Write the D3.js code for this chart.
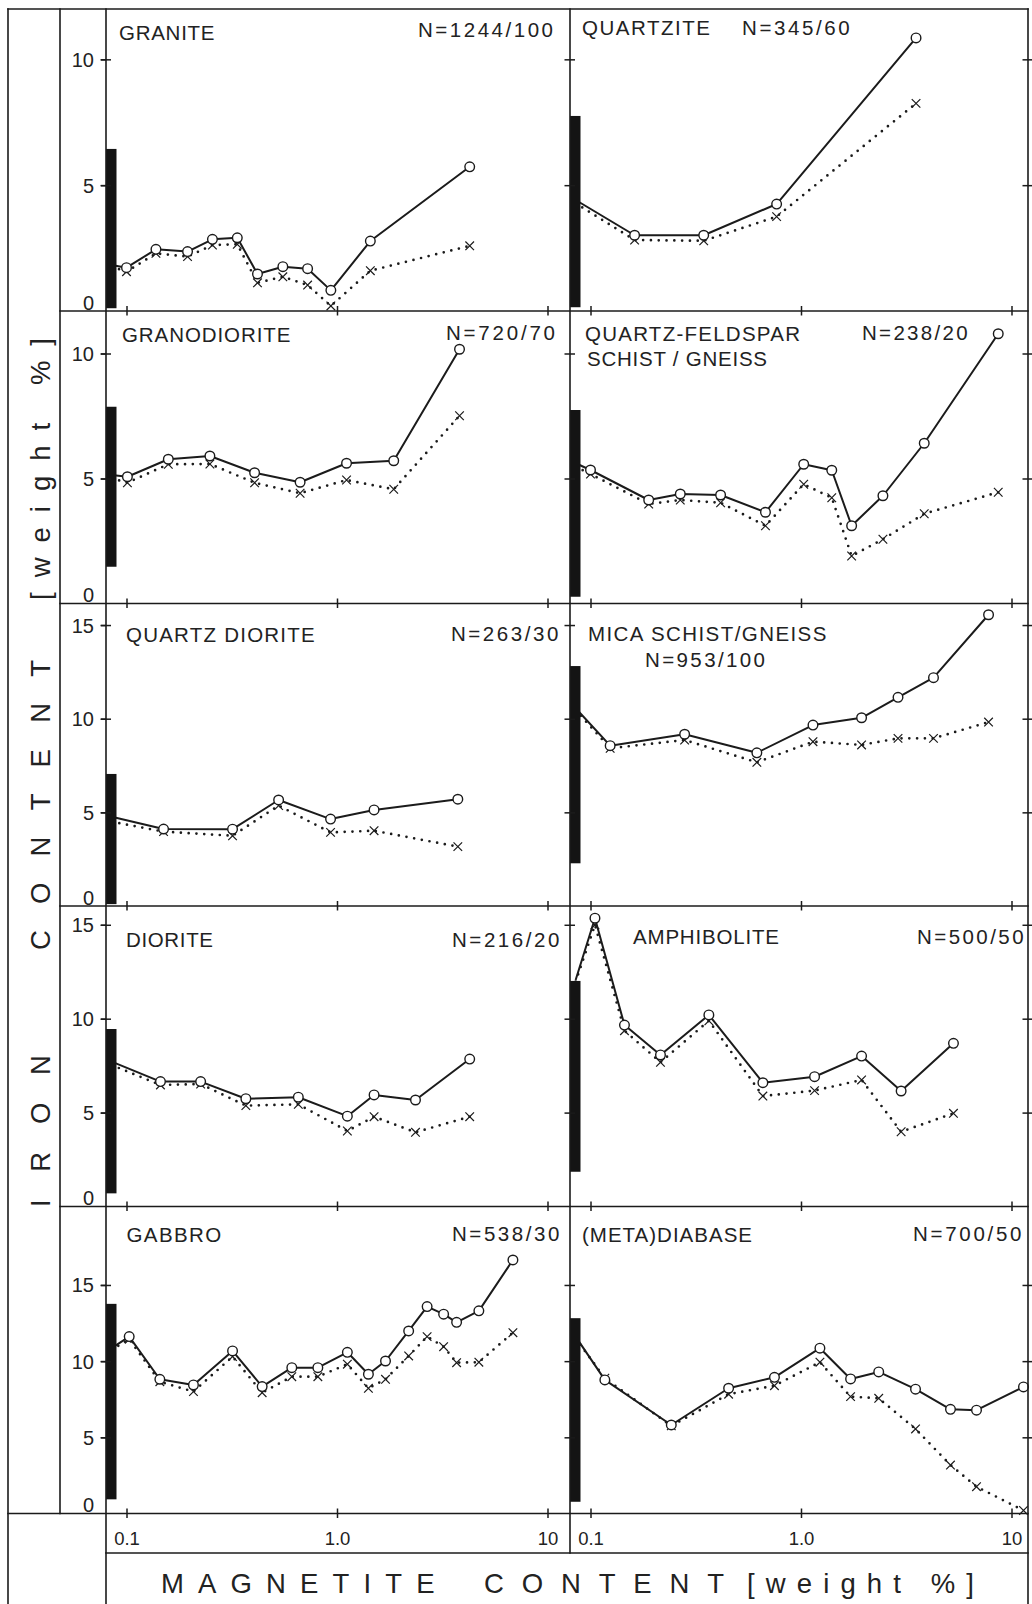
<!DOCTYPE html>
<html>
<head>
<meta charset="utf-8">
<script src="https://cdn.jsdelivr.net/npm/d3@7"></script>
<style>
  html, body { margin: 0; padding: 0; background: #ffffff; }
  svg { display: block; }
  text { font-family: "Liberation Sans", Arial, Helvetica, sans-serif; fill: #222; }
</style>
</head>
<body>
<script>
// Iron content of rocks against their magnetite content.
// Per rock type: magnetite (wt %), total Fe (open circles, solid line),
// Fe not bound in magnetite (crosses, dotted line) and the Fe range of
// magnetite-free samples (black bar). The first point of each series is
// the magnetite-free mean, plotted at the bar without a marker.

const graniteMag      = [0.085, 0.1, 0.138, 0.195, 0.256, 0.336, 0.419, 0.553, 0.725, 0.935, 1.44, 4.27];
const graniteFeTotal  = [1.83, 1.72, 2.45, 2.36, 2.85, 2.91, 1.47, 1.76, 1.68, 0.82, 2.78, 5.73];
const graniteFeRest   = [1.76, 1.56, 2.29, 2.16, 2.62, 2.65, 1.12, 1.36, 1.03, 0.20, 1.60, 2.59];
const graniteBar      = [0.11, 6.44];

const quartziteMag     = [0.085, 0.162, 0.345, 0.766, 3.52];
const quartziteFeTotal = [4.41, 3.01, 3.01, 4.25, 10.85];
const quartziteFeRest  = [4.28, 2.82, 2.79, 3.75, 8.25];
const quartziteBar     = [0.15, 7.75];

const granodioriteMag     = [0.085, 0.101, 0.158, 0.249, 0.406, 0.668, 1.11, 1.86, 3.82];
const granodioriteFeTotal = [5.14, 5.07, 5.77, 5.90, 5.23, 4.85, 5.61, 5.71, 10.17];
const granodioriteFeRest  = [5.01, 4.83, 5.57, 5.58, 4.83, 4.41, 4.94, 4.57, 7.51];
const granodioriteBar     = [1.47, 7.87];

const qfSchistMag     = [0.085, 0.1, 0.189, 0.267, 0.415, 0.678, 1.03, 1.40, 1.74, 2.45, 3.85, 8.65];
const qfSchistFeTotal = [5.61, 5.34, 4.14, 4.38, 4.34, 3.65, 5.57, 5.33, 3.11, 4.31, 6.41, 10.79];
const qfSchistFeRest  = [5.47, 5.18, 3.98, 4.14, 4.03, 3.11, 4.77, 4.23, 1.90, 2.57, 3.59, 4.45];
const qfSchistBar     = [0.27, 7.74];

const quartzDioriteMag     = [0.085, 0.150, 0.319, 0.528, 0.932, 1.50, 3.75];
const quartzDioriteFeTotal = [4.77, 4.11, 4.10, 5.66, 4.64, 5.13, 5.70];
const quartzDioriteFeRest  = [4.50, 3.97, 3.75, 5.36, 3.93, 4.02, 3.17];
const quartzDioriteBar     = [0.10, 7.05];

const micaSchistMag     = [0.085, 0.124, 0.280, 0.617, 1.14, 1.94, 2.89, 4.26, 7.78];
const micaSchistFeTotal = [10.56, 8.56, 9.17, 8.18, 9.66, 10.05, 11.14, 12.19, 15.55];
const micaSchistFeRest  = [10.46, 8.42, 8.86, 7.67, 8.77, 8.60, 8.95, 8.95, 9.82];
const micaSchistBar     = [2.28, 12.81];

const dioriteMag     = [0.085, 0.145, 0.225, 0.369, 0.655, 1.12, 1.50, 2.36, 4.27];
const dioriteFeTotal = [7.71, 6.65, 6.65, 5.74, 5.82, 4.81, 5.94, 5.67, 7.85];
const dioriteFeRest  = [7.53, 6.47, 6.52, 5.37, 5.44, 4.02, 4.78, 3.95, 4.78];
const dioriteBar     = [0.70, 9.45];

const amphiboliteMag     = [0.085, 0.105, 0.145, 0.215, 0.365, 0.659, 1.16, 1.94, 2.99, 5.30];
const amphiboliteFeTotal = [12.06, 15.35, 9.66, 8.07, 10.20, 6.59, 6.91, 8.01, 6.15, 8.69];
const amphiboliteFeRest  = [11.97, 14.99, 9.36, 7.68, 9.89, 5.88, 6.17, 6.74, 3.98, 4.96];
const amphiboliteBar     = [1.85, 12.01];

const gabbroMag     = [0.085, 0.103, 0.144, 0.208, 0.319, 0.441, 0.610, 0.811, 1.12, 1.41, 1.70, 2.19, 2.68, 3.21, 3.70, 4.72, 6.85];
const gabbroFeTotal = [10.85, 11.61, 8.81, 8.44, 10.67, 8.33, 9.57, 9.57, 10.58, 9.14, 10.01, 11.98, 13.58, 13.08, 12.55, 13.30, 16.64];
const gabbroFeRest  = [10.74, 11.44, 8.65, 8.00, 10.30, 7.93, 8.98, 8.98, 9.80, 8.22, 8.81, 10.34, 11.61, 10.95, 9.90, 9.93, 11.87];
const gabbroBar     = [0.93, 13.76];

const diabaseMag     = [0.085, 0.117, 0.242, 0.453, 0.748, 1.23, 1.72, 2.34, 3.50, 5.13, 6.82, 11.4];
const diabaseFeTotal = [11.61, 8.77, 5.81, 8.22, 8.94, 10.85, 8.83, 9.29, 8.16, 6.84, 6.78, 8.31];
const diabaseFeRest  = [11.50, 8.88, 5.75, 7.83, 8.39, 9.93, 7.67, 7.56, 5.55, 3.18, 1.76, 0.20];
const diabaseBar     = [0.77, 12.82];

const rockNames = [
  ["GRANITE"], ["QUARTZITE"],
  ["GRANODIORITE"], ["QUARTZ-FELDSPAR", "SCHIST / GNEISS"],
  ["QUARTZ DIORITE"], ["MICA SCHIST/GNEISS"],
  ["DIORITE"], ["AMPHIBOLITE"],
  ["GABBRO"], ["(META)DIABASE"]
];
const sampleCounts = [
  "N=1244/100", "N=345/60", "N=720/70", "N=238/20", "N=263/30",
  "N=953/100", "N=216/20", "N=500/50", "N=538/30", "N=700/50"
];

const rowTickValues = [[0, 5, 10], [0, 5, 10], [0, 5, 10, 15], [0, 5, 10, 15], [0, 5, 10, 15]];
const rowMaxFe      = [12, 11.7, 16.15, 16, 20.15];
const xTickValues   = [0.1, 1, 10];
const xTickLabels   = ["0.1", "1.0", "10"];
const yTitleWords   = ["IRON", "CONTENT", "[weight %]"];
const xTitleWords   = ["MAGNETITE", "CONTENT", "[weight %]"];

// ---------- layout ----------
const W = 1032, H = 1604;
const frameL = 8, labelColR = 60, frameT = 9, frameR = 1028;
const colX = [[106, 570], [570, 1028]];
const rowY = [[9, 311], [311, 603.5], [603.5, 906], [906, 1206.5], [1206.5, 1513.5]];
const tickRowBottom = 1553;
const decadePx = 210.5, firstTickInset = 20.5;

// title text spots: [x, baseline, length]
const titleSpots = [
  { lines: [[119, 39.5, 95.5]],                     n: [418, 37, 135] },
  { lines: [[582, 35, 128]],                        n: [742, 35, 107.6] },
  { lines: [[122, 341.5, 168.4]],                   n: [446, 339.5, 109] },
  { lines: [[585, 340.5, 215], [587, 366, 180]],    n: [862, 340, 105.6] },
  { lines: [[126, 641.5, 188.7]],                   n: [451, 641, 107.3] },
  { lines: [[588, 640.5, 238.4]],                   n: [645, 666.5, 120] },
  { lines: [[126, 946.5, 87]],                      n: [452, 946.5, 107.4] },
  { lines: [[633, 944, 146]],                       n: [917, 944, 106.6] },
  { lines: [[126.5, 1241.5, 94.7]],                 n: [452, 1241, 107.4] },
  { lines: [[582, 1241.5, 170]],                    n: [913, 1241, 108.4] }
];
const yTitleSpots = [[1207, 152], [950, 290], [600, 262]];   // [start y, length]
const xTitleSpots = [[161, 273.5], [484, 240], [747, 227]];  // [start x, length]

const INK = "#1b1b1b";

const panels = [
  [graniteMag, graniteFeTotal, graniteFeRest, graniteBar],
  [quartziteMag, quartziteFeTotal, quartziteFeRest, quartziteBar],
  [granodioriteMag, granodioriteFeTotal, granodioriteFeRest, granodioriteBar],
  [qfSchistMag, qfSchistFeTotal, qfSchistFeRest, qfSchistBar],
  [quartzDioriteMag, quartzDioriteFeTotal, quartzDioriteFeRest, quartzDioriteBar],
  [micaSchistMag, micaSchistFeTotal, micaSchistFeRest, micaSchistBar],
  [dioriteMag, dioriteFeTotal, dioriteFeRest, dioriteBar],
  [amphiboliteMag, amphiboliteFeTotal, amphiboliteFeRest, amphiboliteBar],
  [gabbroMag, gabbroFeTotal, gabbroFeRest, gabbroBar],
  [diabaseMag, diabaseFeTotal, diabaseFeRest, diabaseBar]
].map(([mag, tot, rest, bar], i) => ({
  row: Math.floor(i / 2), col: i % 2,
  total: mag.map((m, k) => ({ m, v: tot[k] })),
  rest:  mag.map((m, k) => ({ m, v: rest[k] })),
  bar, name: rockNames[i], count: sampleCounts[i], spot: titleSpots[i]
}));

const svg = d3.select("body").append("svg")
  .attr("width", W).attr("height", H)
  .attr("viewBox", `0 0 ${W} ${H}`);

const xScales = colX.map(([x0]) =>
  d3.scaleLog().domain([0.1, 10]).range([x0 + firstTickInset, x0 + firstTickInset + 2 * decadePx]));
const yScales = rowY.map(([y0, y1], r) =>
  d3.scaleLinear().domain([0, rowMaxFe[r]]).range([y1, y0]));

const crossPath = "M-4.3,-4.3L4.3,4.3M-4.3,4.3L4.3,-4.3";

// ---------- data ----------
panels.forEach(p => {
  const x = xScales[p.col], y = yScales[p.row];
  const g = svg.append("g").attr("class", "panel");
  const line = d3.line().x(d => x(d.m)).y(d => y(d.v));

  g.append("path").datum(p.rest)
    .attr("d", line).attr("fill", "none").attr("stroke", INK)
    .attr("stroke-width", 2.7).attr("stroke-linecap", "round")
    .attr("stroke-dasharray", "0 7.8");

  g.selectAll(".cross").data(p.rest.slice(1)).join("path")
    .attr("class", "cross")
    .attr("transform", d => `translate(${x(d.m)},${y(d.v)})`)
    .attr("d", crossPath).attr("stroke", INK).attr("stroke-width", 1.2).attr("fill", "none");

  g.append("path").datum(p.total)
    .attr("d", line).attr("fill", "none").attr("stroke", INK)
    .attr("stroke-width", 2).attr("stroke-linejoin", "round");

  g.selectAll(".dot").data(p.total.slice(1)).join("circle")
    .attr("class", "dot")
    .attr("cx", d => x(d.m)).attr("cy", d => y(d.v)).attr("r", 4.8)
    .attr("fill", "#fff").attr("stroke", INK).attr("stroke-width", 1.4);

  g.append("rect")
    .attr("x", x.range()[0] - firstTickInset)
    .attr("width", 10.5)
    .attr("y", y(p.bar[1]))
    .attr("height", y(p.bar[0]) - y(p.bar[1]))
    .attr("fill", "#141414");

  // rock name and sample count
  p.name.forEach((txt, k) => {
    const [tx, ty, tl] = p.spot.lines[k];
    g.append("text").attr("x", tx).attr("y", ty)
      .attr("font-size", 20.5)
      .attr("textLength", tl).attr("lengthAdjust", "spacing")
      .text(txt);
  });
  const [nx, ny, nl] = p.spot.n;
  g.append("text").attr("x", nx).attr("y", ny)
    .attr("font-size", 20.5)
    .attr("textLength", nl).attr("lengthAdjust", "spacing")
    .text(p.count);
});

// ---------- frame ----------
const frameLines = [
  [frameL, frameT, frameR, frameT],
  [frameL, frameT, frameL, H],
  [frameR, frameT, frameR, H],
  [labelColR, frameT, labelColR, rowY[4][1]],
  [colX[0][0], frameT, colX[0][0], H],
  [colX[1][0], frameT, colX[1][0], tickRowBottom],
  [frameL, rowY[4][1], frameR, rowY[4][1]],
  [colX[0][0], tickRowBottom, frameR, tickRowBottom]
];
rowY.slice(0, 4).forEach(([, y1]) => frameLines.push([labelColR, y1, frameR, y1]));

svg.append("g").selectAll("line").data(frameLines).join("line")
  .attr("x1", d => d[0]).attr("y1", d => d[1])
  .attr("x2", d => d[2]).attr("y2", d => d[3])
  .attr("stroke", INK).attr("stroke-width", 1.6).attr("stroke-linecap", "square");

// ---------- axes ----------
function tidy(sel) {
  sel.select(".domain").remove();
  sel.selectAll(".tick line").attr("stroke", INK).attr("stroke-width", 1.5);
}

rowY.forEach(([y0, y1], r) => {
  const y = yScales[r];
  const inner = rowTickValues[r].filter(v => v > 0);

  // y ticks crossing every vertical axis line of the row
  [colX[0][0], colX[1][0], colX[1][1]].forEach(ax => {
    svg.append("g").attr("transform", `translate(${ax},0)`)
      .call(d3.axisLeft(y).tickValues(inner).tickSize(5.5).tickFormat(""))
      .call(tidy);
    svg.append("g").attr("transform", `translate(${ax},0)`)
      .call(d3.axisRight(y).tickValues(inner).tickSize(5).tickFormat(""))
      .call(tidy);
  });

  // y tick labels, left column only
  const lab = svg.append("g").attr("transform", `translate(${colX[0][0]},0)`)
    .call(d3.axisLeft(y).tickValues(rowTickValues[r]).tickSize(5).tickPadding(7).tickFormat(d3.format("d")))
    .call(tidy);
  lab.selectAll(".tick text")
    .attr("font-size", 20).attr("font-family", null).attr("fill", "#222")
    .attr("dy", d => d === 0 ? "-0.08em" : "0.35em");
  lab.selectAll(".tick").filter(d => d === 0).select("line").remove();

  // x ticks crossing the row's lower line
  xScales.forEach(x => {
    svg.append("g").attr("transform", `translate(0,${y1})`)
      .call(d3.axisBottom(x).tickValues(xTickValues).tickSize(4.5).tickFormat(""))
      .call(tidy);
    svg.append("g").attr("transform", `translate(0,${y1})`)
      .call(d3.axisTop(x).tickValues(xTickValues).tickSize(5).tickFormat(""))
      .call(tidy);
  });
});

// x tick labels under the bottom row
xScales.forEach(x => {
  const g = svg.append("g").attr("transform", `translate(0,${rowY[4][1]})`)
    .call(d3.axisBottom(x).tickValues(xTickValues).tickSize(0)
      .tickFormat((d, i) => xTickLabels[i]));
  g.select(".domain").remove();
  g.selectAll(".tick text")
    .attr("y", 31.5).attr("dy", null)
    .attr("font-size", 18.5).attr("font-family", null).attr("fill", "#222");
});

// ---------- axis titles ----------
yTitleWords.forEach((w, i) => {
  const [sy, len] = yTitleSpots[i];
  svg.append("text")
    .attr("transform", `translate(50,${sy}) rotate(-90)`)
    .attr("font-size", 27.5)
    .attr("textLength", len).attr("lengthAdjust", "spacing")
    .text(w);
});
xTitleWords.forEach((w, i) => {
  const [sx, len] = xTitleSpots[i];
  svg.append("text")
    .attr("x", sx).attr("y", 1593)
    .attr("font-size", 27.5)
    .attr("textLength", len).attr("lengthAdjust", "spacing")
    .text(w);
});
</script>
</body>
</html>
